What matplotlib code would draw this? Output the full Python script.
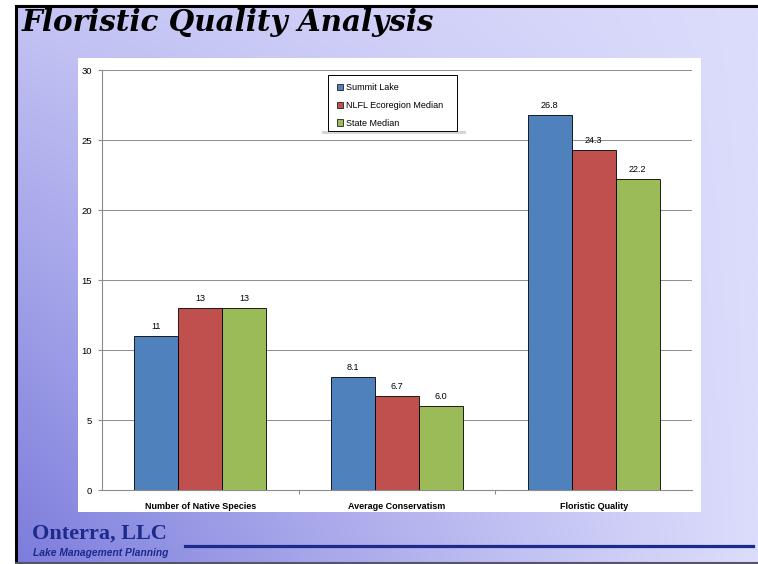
import numpy as np
import matplotlib.pyplot as plt
from matplotlib.patches import Patch, Rectangle
from matplotlib.lines import Line2D

# ── data ──────────────────────────────────────────────────────────────────
categories = ['Number of Native Species', 'Average Conservatism', 'Floristic Quality']
series_names = ['Summit Lake', 'NLFL Ecoregion Median', 'State Median']
summit_lake = [11, 8.1, 26.8]
nlfl_median = [13, 6.7, 24.3]
state_median = [13, 6.0, 22.2]
value_labels = [
    ['11', '8.1', '26.8'],
    ['13', '6.7', '24.3'],
    ['13', '6.0', '22.2'],
]
y_ticks = [0, 5, 10, 15, 20, 25, 30]

COLORS = ['#4f81bd', '#c0504d', '#9bbb59']
NAVY = '#1c2a8a'
W, H = 758, 564

plt.rcParams['font.family'] = ['Liberation Sans', 'DejaVu Sans']

fig = plt.figure(figsize=(W / 100, H / 100), dpi=100, facecolor='white')


def fx(px):
    return px / W


def fy(py):
    return 1 - py / H


# ── slide background: lavender, darkening towards the bottom-left ─────────
bg = fig.add_axes([fx(16), 0, 1 - fx(16), 1 - 6 / H], zorder=-5)
gx, gy = np.meshgrid(np.linspace(0, 1, 300), np.linspace(0, 1, 220))
d = np.clip((1 - gx) ** 1.1 * (0.25 + 0.75 * gy), 0, 1)   # gy = 0 at top
dark = np.array([0x7c, 0x7c, 0xdc]) / 255
light = np.array([0xdc, 0xdc, 0xfc]) / 255
img = light[None, None, :] * (1 - d[..., None]) + dark[None, None, :] * d[..., None]
bg.imshow(img, aspect='auto', origin='upper', extent=[0, 1, 0, 1])
bg.set_axis_off()

# slide frame
fig.add_artist(Line2D([fx(16), fx(16)], [0, fy(6)], color='black', lw=2.2))
fig.add_artist(Line2D([fx(16), 1], [fy(6), fy(6)], color='black', lw=2.2))
fig.add_artist(Line2D([fx(16), 1], [fy(563), fy(563)], color='#555566', lw=1.5))

# title
fig.text(fx(22), fy(31), 'Floristic Quality Analysis', fontsize=21.2,
         fontweight='bold', fontstyle='italic', family='DejaVu Serif',
         color='black', va='baseline', ha='left')

# white chart card
fig.add_artist(Rectangle((fx(78), fy(512)), fx(701) - fx(78), fy(58) - fy(512),
                         transform=fig.transFigure, facecolor='white',
                         edgecolor='none', zorder=-1))

# ── chart ────────────────────────────────────────────────────────────────
ax = fig.add_axes([fx(102), fy(490), fx(692) - fx(102), fy(70) - fy(490)], zorder=2)
ax.set_facecolor('none')
x = np.arange(len(categories))
bw = 0.224
for i, (vals, name) in enumerate(zip([summit_lake, nlfl_median, state_median], series_names)):
    pos = x + (i - 1) * bw
    ax.bar(pos, vals, width=bw, color=COLORS[i], edgecolor='black', linewidth=0.6,
           zorder=3, label=name)
    for p, v, lab in zip(pos, vals, value_labels[i]):
        ax.text(p, v + 0.35, lab, ha='center', va='bottom', fontsize=6.5, color='black')

ax.set_xlim(-0.5, len(categories) - 0.5)
ax.set_ylim(0, 30)
ax.set_yticks(y_ticks)
ax.set_yticklabels([str(v) for v in y_ticks], fontsize=6.8)
ax.yaxis.grid(True, color='#8c8c8c', linewidth=0.7, zorder=0)
ax.set_axisbelow(True)
ax.set_xticks([0.5, 1.5])
ax.set_xticklabels([])
ax.tick_params(axis='x', length=3, color='#8c8c8c')
ax.tick_params(axis='y', length=3, color='#8c8c8c', pad=4)
for i, cat in enumerate(categories):
    ax.text(i, -0.028, cat, transform=ax.get_xaxis_transform(), ha='center', va='top',
            fontsize=6.5, fontweight='bold')
for side in ('top', 'right'):
    ax.spines[side].set_visible(False)
for side in ('left', 'bottom'):
    ax.spines[side].set_color('#8c8c8c')
    ax.spines[side].set_linewidth(0.8)

# legend: entries without frame, box and soft shadow drawn separately
handles = [Patch(facecolor=c, edgecolor='#222222', linewidth=0.6) for c in COLORS]
leg = ax.legend(handles, series_names, loc='upper left',
                bbox_to_anchor=(fx(337), fy(83)), bbox_transform=fig.transFigure,
                fontsize=6.5, frameon=False,
                handlelength=0.7, handleheight=0.7, handletextpad=0.25,
                labelspacing=0.98, borderpad=0, borderaxespad=0)
leg.set_zorder(10)
fig.add_artist(Rectangle((fx(328), fy(131)), fx(457) - fx(328), fy(75) - fy(131),
                         transform=fig.transFigure, facecolor='white',
                         edgecolor='black', linewidth=0.7, zorder=1))
fig.add_artist(Rectangle((fx(322), fy(134)), fx(466) - fx(322), 3 / H,
                         transform=fig.transFigure, facecolor='#d6d6d6',
                         edgecolor='none', zorder=-0.5))

# ── footer ───────────────────────────────────────────────────────────────
fig.text(fx(32), fy(539), 'Onterra, LLC', fontsize=16, fontweight='bold',
         family='Liberation Serif', color=NAVY, va='baseline', ha='left')
fig.text(fx(33), fy(553), 'Lake Management Planning', fontsize=7.4, fontweight='bold',
         fontstyle='italic', color=NAVY, va='center', ha='left')
fig.add_artist(Line2D([fx(185), fx(753)], [fy(546), fy(546)], color=NAVY, lw=2.3))

fig.savefig('out.png', dpi=100, facecolor='white')
